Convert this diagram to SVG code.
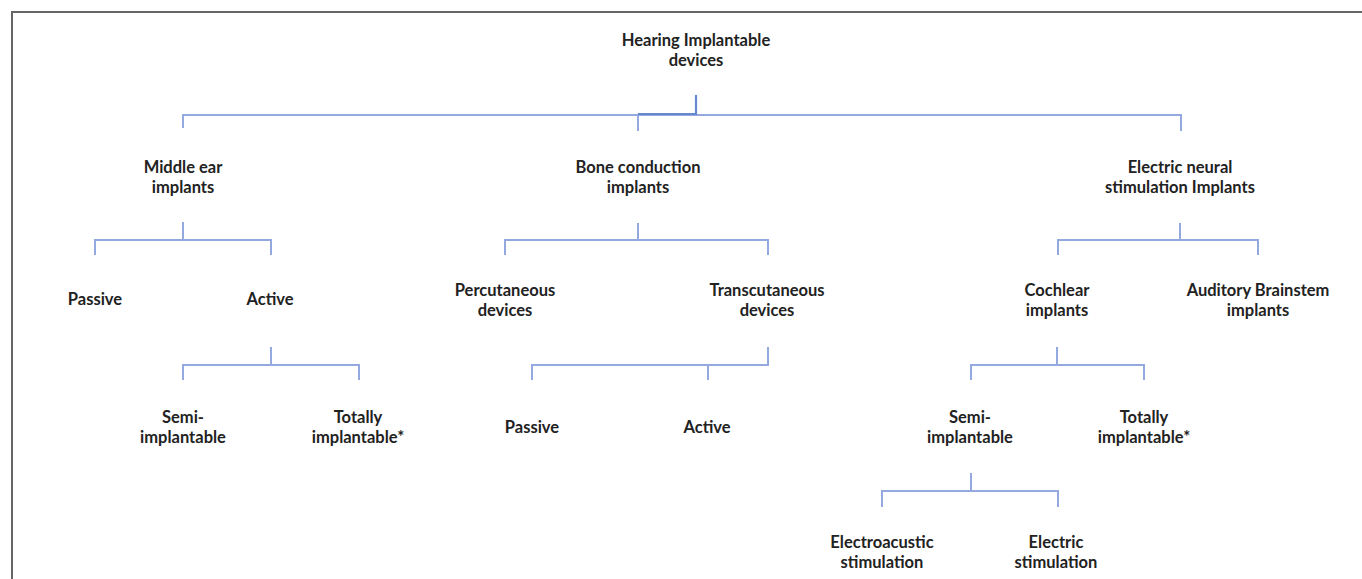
<svg xmlns="http://www.w3.org/2000/svg" width="1362" height="579" viewBox="0 0 1362 579">
<style>
text{font-family:Lato,"Open Sans","Liberation Sans",sans-serif;font-weight:700;font-size:16.5px;fill:#222;text-anchor:middle}
.c{fill:none;stroke:#93a9df;stroke-width:2}
.d{fill:none;stroke:#6688d0;stroke-width:2.2}
</style>
<rect width="1362" height="579" fill="#fff"/>
<path d="M12,579V12H1362" fill="none" stroke="#666" stroke-width="2"/>
<g id="connectors">
<path class="c" d="M183,128V115H1181V131M638,115V131"/>
<path class="d" d="M696,95V114H638"/>
<path class="c" d="M183,222V240M95,255V240H271V255"/>
<path class="c" d="M638,223V240M505,255V240H768V255"/>
<path class="c" d="M1180,223V240M1058,255V240H1258V255"/>
<path class="c" d="M271,347V365M183,380V365H359V380"/>
<path class="c" d="M768,347V365H532V380M708,365V380"/>
<path class="c" d="M1057,347V365M971,380V365H1144V380"/>
<path class="c" d="M971,473V491M882,507V491H1058V507"/>
</g>
<g id="n-root"><text x="696" y="46">Hearing Implantable</text><text x="696" y="66">devices</text></g>
<g id="n-middle"><text x="183" y="173">Middle ear</text><text x="183" y="193">implants</text></g>
<g id="n-bone"><text x="638" y="173">Bone conduction</text><text x="638" y="193">implants</text></g>
<g id="n-electric"><text x="1180" y="173">Electric neural</text><text x="1180" y="193">stimulation Implants</text></g>
<g id="n-passive1"><text x="95" y="305">Passive</text></g>
<g id="n-active1"><text x="270" y="305">Active</text></g>
<g id="n-percut"><text x="505" y="296">Percutaneous</text><text x="505" y="316">devices</text></g>
<g id="n-transcut"><text x="767" y="296">Transcutaneous</text><text x="767" y="316">devices</text></g>
<g id="n-cochlear"><text x="1057" y="296">Cochlear</text><text x="1057" y="316">implants</text></g>
<g id="n-abi"><text x="1258" y="296">Auditory Brainstem</text><text x="1258" y="316">implants</text></g>
<g id="n-semi1"><text x="183" y="423">Semi-</text><text x="183" y="443">implantable</text></g>
<g id="n-total1"><text x="358" y="423">Totally</text><text x="358" y="443">implantable*</text></g>
<g id="n-passive2"><text x="532" y="433">Passive</text></g>
<g id="n-active2"><text x="707" y="433">Active</text></g>
<g id="n-semi2"><text x="970" y="423">Semi-</text><text x="970" y="443">implantable</text></g>
<g id="n-total2"><text x="1144" y="423">Totally</text><text x="1144" y="443">implantable*</text></g>
<g id="n-eas"><text x="882" y="548">Electroacustic</text><text x="882" y="568">stimulation</text></g>
<g id="n-es"><text x="1056" y="548">Electric</text><text x="1056" y="568">stimulation</text></g>
</svg>
